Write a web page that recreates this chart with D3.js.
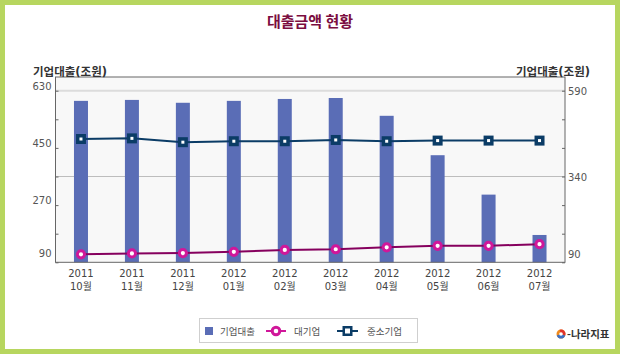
<!DOCTYPE html>
<html>
<head>
<meta charset="utf-8">
<script src="https://cdn.jsdelivr.net/npm/d3@7"></script>
<style>
  body { margin: 0; padding: 0; background: #fff; }
  svg text { font-family: 'DejaVu Sans', 'Noto Sans CJK KR', sans-serif; }
</style>
</head>
<body>
<div id="main"></div>
<script>
const years = ['2011', '2011', '2011', '2012', '2012', '2012', '2012', '2012', '2012', '2012'];
const months = ['10월', '11월', '12월', '01월', '02월', '03월', '04월', '05월', '06월', '07월'];
const corpLoans = [598, 601, 592, 598, 604, 607, 551, 427, 303, 176];
const bigFirms = [115, 118, 119, 123, 129, 131, 137, 142, 142, 147];
const smallFirms = [478, 480, 468, 471, 471, 475, 471, 473, 473, 473];
const leftTicks = [630, 540, 450, 360, 270, 180, 90];
const leftLabels = [630, 450, 270, 90];
const rightTicks = [590, 506.67, 423.33, 340, 256.67, 173.33, 90];
const rightLabels = [590, 340, 90];

const WIDTH = 620, HEIGHT = 354;
const PLOT = { left: 55.5, right: 565, top: 77, bottom: 262.3 };
const BARCOLOR = '#5a6db6';
const SMECOLOR = '#0b3c66';
const BIGLINE = '#86005e';
const BIGMARK = '#d0179a';

const svg = d3.select('#main').append('svg')
    .attr('width', WIDTH)
    .attr('height', HEIGHT);

// green frame
svg.append('rect').attr('width', WIDTH).attr('height', HEIGHT).attr('fill', '#b7d65f');
svg.append('rect').attr('x', 5).attr('y', 5).attr('width', WIDTH - 10).attr('height', HEIGHT - 10).attr('fill', '#fff');

svg.append('text')
    .text('대출금액 현황')
    .attr('x', 310).attr('y', 27)
    .attr('text-anchor', 'middle')
    .attr('font-size', 15).attr('font-weight', 'bold')
    .attr('fill', '#7b0d40')
    .style('font-family', "'Noto Sans CJK KR', sans-serif");

const labels = years.map((y, i) => y + ' ' + months[i]);
const scaleX = d3.scaleBand().domain(labels).range([PLOT.left, PLOT.right]);
const scaleYL = d3.scaleLinear().domain([90, 630]).range([PLOT.bottom, 90.7]);
const scaleYR = d3.scaleLinear().domain([90, 590]).range([PLOT.bottom, 90.7]);
const cx = (i) => scaleX(labels[i]) + scaleX.bandwidth() / 2;

// plot background + grid
svg.append('rect')
    .attr('x', PLOT.left).attr('y', PLOT.top)
    .attr('width', PLOT.right - PLOT.left).attr('height', PLOT.bottom - PLOT.top)
    .attr('fill', '#f8f8f8');
svg.append('line')
    .attr('x1', PLOT.left).attr('x2', PLOT.right)
    .attr('y1', scaleYL(630)).attr('y2', scaleYL(630))
    .attr('stroke', '#dcdcdc').attr('stroke-width', 2);
svg.append('line')
    .attr('x1', PLOT.left).attr('x2', PLOT.right)
    .attr('y1', scaleYL(360)).attr('y2', scaleYL(360))
    .attr('stroke', '#bdbdbd').attr('stroke-width', 1);

// bars
const BARW = 14;
svg.selectAll('rect.bar').data(corpLoans).enter().append('rect')
    .attr('class', 'bar')
    .attr('x', (d, i) => cx(i) - BARW / 2)
    .attr('y', (d) => scaleYL(d))
    .attr('width', BARW)
    .attr('height', (d) => PLOT.bottom - scaleYL(d))
    .attr('fill', BARCOLOR);

// lines
const lineGen = d3.line().x((d, i) => cx(i)).y((d) => scaleYL(d));
svg.append('path').datum(smallFirms)
    .attr('d', lineGen).attr('fill', 'none')
    .attr('stroke', SMECOLOR).attr('stroke-width', 2);
svg.append('path').datum(bigFirms)
    .attr('d', lineGen).attr('fill', 'none')
    .attr('stroke', BIGLINE).attr('stroke-width', 2);

const smeMarks = svg.selectAll('g.sme').data(smallFirms).enter().append('g')
    .attr('class', 'sme')
    .attr('transform', (d, i) => `translate(${cx(i)}, ${scaleYL(d)})`);
smeMarks.append('rect').attr('x', -5).attr('y', -5).attr('width', 10).attr('height', 10).attr('fill', SMECOLOR);
smeMarks.append('rect').attr('x', -1.5).attr('y', -1.5).attr('width', 3).attr('height', 3).attr('fill', '#fff');

svg.selectAll('circle.big').data(bigFirms).enter().append('circle')
    .attr('class', 'big')
    .attr('cx', (d, i) => cx(i))
    .attr('cy', (d) => scaleYL(d))
    .attr('r', 3.6)
    .attr('fill', '#fff')
    .attr('stroke', BIGMARK).attr('stroke-width', 3);

// frame
svg.append('rect')
    .attr('x', PLOT.left).attr('y', PLOT.top)
    .attr('width', PLOT.right - PLOT.left).attr('height', PLOT.bottom - PLOT.top)
    .attr('fill', 'none').attr('stroke', '#666').attr('stroke-width', 1);

// axes
const axisL = d3.axisLeft(scaleYL).tickValues(leftTicks).tickSize(-3)
    .tickFormat((d) => leftLabels.includes(d) ? d : '');
const gL = svg.append('g').attr('transform', `translate(${PLOT.left}, 0)`).call(axisL);
gL.select('.domain').remove();
gL.selectAll('line').attr('stroke', '#666');
gL.selectAll('text')
    .attr('x', -4)
    .attr('dy', (d) => d === 90 ? '-0.6em' : '-0.15em')
    .attr('font-size', 10).attr('fill', '#555');

const axisR = d3.axisRight(scaleYR).tickValues(rightTicks).tickSize(-3)
    .tickFormat((d) => rightLabels.includes(d) ? d : '');
const gR = svg.append('g').attr('transform', `translate(${PLOT.right}, 0)`).call(axisR);
gR.select('.domain').remove();
gR.selectAll('line').attr('stroke', '#666');
gR.selectAll('text')
    .attr('x', 3)
    .attr('dy', (d) => d === 90 ? '-0.5em' : '0.35em')
    .attr('font-size', 10).attr('fill', '#555');

const axisB = d3.axisBottom(scaleX).tickSize(0).tickFormat('');
const gB = svg.append('g').attr('transform', `translate(0, ${PLOT.bottom})`).call(axisB);
gB.select('.domain').remove();
const xl = svg.selectAll('text.xl').data(labels).enter().append('text')
    .attr('class', 'xl')
    .attr('text-anchor', 'middle')
    .attr('font-size', 10).attr('fill', '#444');
xl.append('tspan').attr('x', (d, i) => cx(i)).attr('y', 277).text((d, i) => years[i]);
xl.append('tspan').attr('x', (d, i) => cx(i)).attr('y', 289.5).text((d, i) => months[i]);

// axis titles
svg.append('text').text('기업대출(조원)')
    .attr('x', 33).attr('y', 76)
    .attr('font-size', 11.5).attr('font-weight', 'bold').attr('fill', '#333');
svg.append('text').text('기업대출(조원)')
    .attr('x', 590).attr('y', 76).attr('text-anchor', 'end')
    .attr('font-size', 11.5).attr('font-weight', 'bold').attr('fill', '#333');

// legend
const legend = svg.append('g');
legend.append('rect')
    .attr('x', 199.5).attr('y', 318.5).attr('width', 218).attr('height', 24)
    .attr('fill', '#fff').attr('stroke', '#cfcfcf');
legend.append('rect').attr('x', 205).attr('y', 327).attr('width', 8).attr('height', 8).attr('fill', BARCOLOR);
legend.append('text').text('기업대출').attr('x', 220).attr('y', 335).attr('font-size', 9.5).attr('fill', '#555');
legend.append('line').attr('x1', 266).attr('x2', 286).attr('y1', 331).attr('y2', 331).attr('stroke', BIGMARK).attr('stroke-width', 2);
legend.append('circle').attr('cx', 276).attr('cy', 331).attr('r', 3.8).attr('fill', '#fff').attr('stroke', BIGMARK).attr('stroke-width', 3);
legend.append('text').text('대기업').attr('x', 294).attr('y', 335).attr('font-size', 9.5).attr('fill', '#555');
legend.append('line').attr('x1', 337).attr('x2', 358).attr('y1', 331).attr('y2', 331).attr('stroke', SMECOLOR).attr('stroke-width', 2);
legend.append('rect').attr('x', 342.5).attr('y', 326).attr('width', 10).attr('height', 10).attr('fill', SMECOLOR);
legend.append('rect').attr('x', 345).attr('y', 328.5).attr('width', 5).attr('height', 5).attr('fill', '#fff');
legend.append('text').text('중소기업').attr('x', 367).attr('y', 335).attr('font-size', 9.5).attr('fill', '#555');

// e-나라지표 logo
const logo = svg.append('g').attr('transform', 'translate(561, 334)');
logo.append('circle').attr('r', 4.5).attr('fill', '#f08a1c');
logo.append('path').attr('d', d3.arc()({ innerRadius: 0, outerRadius: 4.5, startAngle: Math.PI * 0.6, endAngle: Math.PI * 1.4 })).attr('fill', '#3b6fc4');
logo.append('path').attr('d', d3.arc()({ innerRadius: 0, outerRadius: 4.5, startAngle: -Math.PI * 0.1, endAngle: Math.PI * 0.6 })).attr('fill', '#e0312a');
logo.append('circle').attr('r', 1.8).attr('fill', '#fff');
svg.append('text').text('-나라지표')
    .attr('x', 567).attr('y', 338)
    .attr('font-size', 10.5).attr('font-weight', 'bold').attr('fill', '#333')
    .style('font-family', "'Noto Sans CJK KR', sans-serif");
</script>
</body>
</html>
